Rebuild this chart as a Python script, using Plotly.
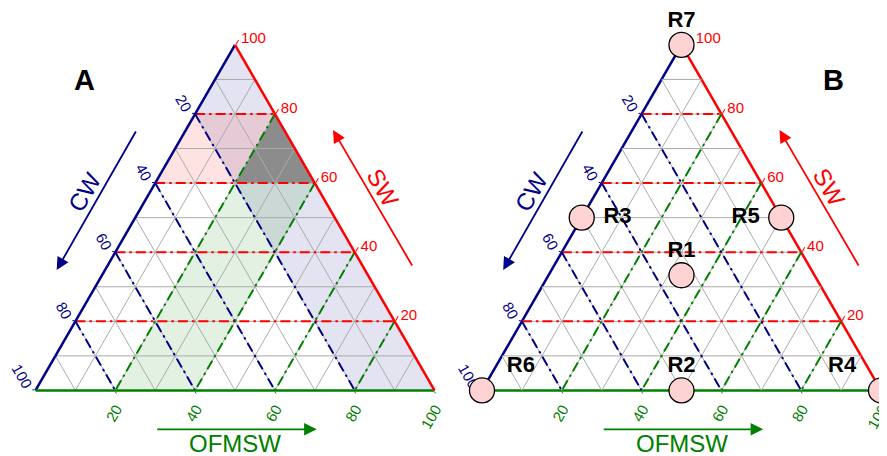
import plotly.graph_objects as go

# The page body has an 8 px margin, so the figure is sized to fit the window.
OFF = 8
W, H = 887 - OFF, 456 - OFF
FONT = "Liberation Sans, Arial, Helvetica, sans-serif"
BLUE = "#000088"
RED = "#FF0000"
GREEN = "#008000"
GREY = "#ABABAB"
NB = "\u00a0"

# Component order in the ternary: a = SW (top), b = CW (bottom-left), c = OFMSW (bottom-right)
grid_levels = [10, 20, 30, 40, 50, 60, 70, 80, 90]
major_levels = [20, 40, 60, 80]
tick_vals = [0, 20, 40, 60, 80]
tick_text = ["100", "80", "60", "40", "20"]

# Panel A shaded ranges
sw_band = [60, 80]
cw_band = [0, 20]
ofmsw_band = [20, 40]

# Panel B design points
pt_labels = ["R1", "R2", "R3", "R4", "R5", "R6", "R7"]
pt_sw = [33.333, 0, 50, 0, 50, 0, 100]
pt_cw = [33.333, 50, 50, 0, 0, 100, 0]
pt_ofmsw = [33.334, 50, 0, 100, 50, 0, 0]
pt_textpos = ["top center", "top center", "middle right", "top left",
              "middle left", "top right", "top center"]


def clip(poly, k, lo, hi):
    """Clip a polygon of (a,b,c) triplets to lo <= comp[k] <= hi."""
    def clip_half(p, f):
        out = []
        n = len(p)
        for i in range(n):
            cur, nxt = p[i], p[(i + 1) % n]
            fc, fn = f(cur), f(nxt)
            if fc >= 0:
                out.append(cur)
            if (fc >= 0) != (fn >= 0):
                t = fc / (fc - fn)
                out.append(tuple(cur[j] + t * (nxt[j] - cur[j]) for j in range(3)))
        return out
    p = clip_half(poly, lambda q: q[k] - lo)
    p = clip_half(p, lambda q: hi - q[k])
    return p


TRI = [(100.0, 0.0, 0.0), (0.0, 100.0, 0.0), (0.0, 0.0, 100.0)]


def region(bands):
    p = TRI
    for k, (lo, hi) in bands:
        p = clip(p, k, lo, hi)
    return p


def level_line(k, v):
    """end points of the line comp[k] = v."""
    others = [j for j in range(3) if j != k]
    p1 = [0, 0, 0]
    p2 = [0, 0, 0]
    p1[k] = v; p1[others[0]] = 100 - v; p1[others[1]] = 0
    p2[k] = v; p2[others[0]] = 0; p2[others[1]] = 100 - v
    return p1, p2


fig = go.Figure()


def add_poly(poly, color, sub):
    pts = poly + [poly[0]]
    fig.add_trace(go.Scatterternary(
        a=[q[0] for q in pts], b=[q[1] for q in pts], c=[q[2] for q in pts],
        mode="lines", fill="toself", fillcolor=color, line=dict(width=0),
        subplot=sub, hoverinfo="skip", showlegend=False))


def add_grid(sub):
    for k in range(3):
        for v in grid_levels:
            p1, p2 = level_line(k, v)
            fig.add_trace(go.Scatterternary(
                a=[p1[0], p2[0]], b=[p1[1], p2[1]], c=[p1[2], p2[2]],
                mode="lines", line=dict(color=GREY, width=1),
                subplot=sub, hoverinfo="skip", showlegend=False))
    colors = [RED, BLUE, GREEN]
    for k in range(3):
        for v in major_levels:
            p1, p2 = level_line(k, v)
            fig.add_trace(go.Scatterternary(
                a=[p1[0], p2[0]], b=[p1[1], p2[1]], c=[p1[2], p2[2]],
                mode="lines", line=dict(color=colors[k], width=2, dash="10px,4px,2.5px,4px"),
                subplot=sub, hoverinfo="skip", showlegend=False))


# ---- Panel A ----
add_poly(region([(1, cw_band)]), "rgba(0,0,128,0.11)", "ternary")
add_poly(region([(0, sw_band)]), "rgba(255,0,0,0.11)", "ternary")
add_poly(region([(2, ofmsw_band)]), "rgba(0,128,0,0.11)", "ternary")
add_poly(region([(0, sw_band), (1, cw_band), (2, ofmsw_band)]), "rgb(140,140,140)", "ternary")
add_grid("ternary")

# ---- Panel B ----
add_grid("ternary2")
fig.add_trace(go.Scatterternary(
    a=pt_sw, b=pt_cw, c=pt_ofmsw, mode="markers",
    marker=dict(size=25, color="#FFD3D3", line=dict(color="black", width=1.3)),
    cliponaxis=False, subplot="ternary2", hoverinfo="skip", showlegend=False))

# labels: invisible marker sizes only set the text offset from each point
label_offset_size = {"top": 18.5, "middle": 33}
label_pad = {"top right": NB * 2, "top left": NB * 2}
for vpos, msize in label_offset_size.items():
    idx = [i for i, p in enumerate(pt_textpos) if p.startswith(vpos)]
    texts = []
    for i in idx:
        pad = label_pad.get(pt_textpos[i], "")
        t = pt_labels[i]
        if pt_textpos[i].endswith("right"):
            t = pad + t
        elif pt_textpos[i].endswith("left"):
            t = t + pad
        texts.append(t)
    fig.add_trace(go.Scatterternary(
        a=[pt_sw[i] for i in idx], b=[pt_cw[i] for i in idx], c=[pt_ofmsw[i] for i in idx],
        text=texts, mode="markers+text",
        textposition=[pt_textpos[i] for i in idx],
        textfont=dict(family=FONT, size=22, color="black", weight="bold"),
        marker=dict(size=msize, color="rgba(0,0,0,0)", line=dict(width=0)),
        cliponaxis=False, subplot="ternary2", hoverinfo="skip", showlegend=False))


def axis(color, angle, layer, texts, ticklen):
    return dict(tickmode="array", tickvals=tick_vals, ticktext=texts,
                showgrid=False, showline=True, linecolor=color, linewidth=2.5,
                ticks="outside", ticklen=ticklen, tickwidth=1, tickcolor=color,
                title=dict(text=""), layer=layer, min=0,
                tickangle=angle, tickfont=dict(family=FONT, size=15, color=color))


def tern(xdom, layer, ctexts):
    return dict(sum=100, domain=dict(x=xdom, y=[0.132, 0.932]), bgcolor="white",
                aaxis=axis(BLUE, 60, layer, tick_text, 2),
                baxis=axis(GREEN, -60, layer, tick_text, 2),
                caxis=axis(RED, 0, layer, ctexts, 5))


def px(x):
    return (x - OFF) / W


def py(y):
    return 1 - (y - OFF) / H


ann = []
for dx, name, lx in [(0, "A", 84.5), (446.5, "B", 833.5)]:
    ann.append(dict(x=px(lx), y=py(80), text="<b>%s</b>" % name,
                    font=dict(family=FONT, size=29, color="black")))
    ann.append(dict(x=px(84 + dx), y=py(192), text="CW", textangle=-60,
                    font=dict(family=FONT, size=24, color=BLUE)))
    ann.append(dict(x=px(383 + dx), y=py(187), text="SW", textangle=60,
                    font=dict(family=FONT, size=24, color=RED)))
    ann.append(dict(x=px(235 + dx), y=py(443), text="OFMSW",
                    font=dict(family=FONT, size=24, color=GREEN)))
    # arrows
    ann.append(dict(x=px(56.7 + dx), y=py(270), ax=80, ay=-140, text="", showarrow=True,
                    arrowhead=2, arrowsize=1.4, arrowwidth=1.8, arrowcolor=BLUE, standoff=0))
    ann.append(dict(x=px(333 + dx), y=py(130), ax=80, ay=137, text="", showarrow=True,
                    arrowhead=2, arrowsize=1.4, arrowwidth=1.8, arrowcolor=RED, standoff=0))
    ann.append(dict(x=px(316.7 + dx), y=py(429.3), ax=-161, ay=0, text="", showarrow=True,
                    arrowhead=2, arrowsize=1.4, arrowwidth=1.8, arrowcolor=GREEN, standoff=0))
for a_ in ann:
    a_["xref"] = "paper"
    a_["yref"] = "paper"
    a_["xanchor"] = "center"
    a_["yanchor"] = "middle"
    a_.setdefault("showarrow", False)

b_ctexts = [NB * 2 + tick_text[0]] + tick_text[1:]

fig.update_layout(
    width=W, height=H, margin=dict(l=0, r=0, t=0, b=0),
    paper_bgcolor="white", plot_bgcolor="white",
    font=dict(family=FONT),
    ternary=tern([(35.5 - OFF) / W, (434.5 - OFF) / W], "above traces", tick_text),
    ternary2=tern([(482 - OFF) / W, (881 - OFF) / W], "below traces", b_ctexts),
    annotations=ann, showlegend=False)

fig.write_html("out.html")
